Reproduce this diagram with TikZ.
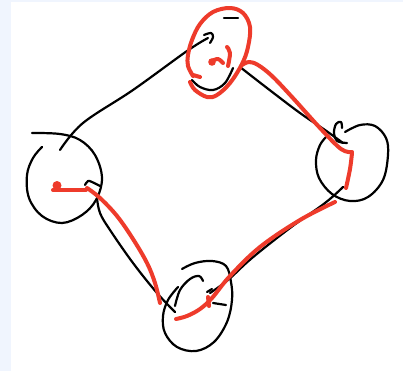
\documentclass[tikz,border=0pt]{standalone}
\usetikzlibrary{arrows.meta}
\definecolor{pen}{HTML}{000000}
\definecolor{marker}{HTML}{EE3B2B}
\definecolor{side}{HTML}{F0F5FE}
\tikzset{
  blk/.style={draw=pen,line width=1.65pt,line cap=round,line join=round},
  red/.style={draw=marker,line width=3pt,line cap=round,line join=round},
  sm/.style={smooth,tension=0.6}
}
\begin{document}
\begin{tikzpicture}[x=0.75pt,y=-0.75pt]
\useasboundingbox (0,0) rectangle (403,371);
\fill[white] (0,0) rectangle (403,371);
\fill[side] (0,0) rectangle (11,371);
\fill[side] (0,0) rectangle (403,1.5);
% node centres
\coordinate (topn) at (218,53);
\coordinate (leftn) at (65,180);
\coordinate (rightn) at (352,163);
\coordinate (botn) at (197,307);
% ---- black strokes ----
% arrow from left node up to top node
\draw[blk] plot[sm] coordinates {(60,150) (83,123) (133,90) (187,51) (208,38)};
\draw[blk] plot[sm] coordinates {(204,35) (211,33) (213,37) (210,43)};
% top node
\draw[blk] (224,18) -- (238,18);
\draw[blk] plot[sm] coordinates {(192,80) (200,87) (213,90) (225,83) (233,68)};
% top -> right
\draw[blk] plot[sm] coordinates {(240,67) (267,88) (300,113) (325,130) (343,143)};
% right node
\draw[blk] plot[sm] coordinates {(345,132) (360,125) (375,126) (386,138) (388,155) (383,180) (368,197) (350,201) (332,194) (319,178) (316,160) (320,145) (327,136)};
\draw[blk] plot[sm] coordinates {(342,128) (341,122) (336,124) (334,133) (337,141) (347,143)};
% right -> bottom
\draw[blk] plot[sm] coordinates {(343,187) (325,203) (290,228) (252,258) (228,280) (210,293)};
\draw[blk] (213,303) -- (226,305);
\draw[blk] (207,292) -- (212,289);
% bottom node
\draw[blk] plot[sm] coordinates {(182,269) (195,263) (212,261) (226,266) (231,282) (232,300) (227,322) (214,342) (196,351) (177,347) (165,333) (163,316) (168,300) (178,287)};
\draw[blk] plot[sm] coordinates {(175,306) (180,290) (190,279) (199,276) (203,281)};
% bottom -> left
\draw[blk] plot[sm] coordinates {(175,312) (157,293) (133,263) (110,230) (100,213) (97,198)};
% left node
\draw[blk] plot[sm] coordinates {(32,133) (60,134) (80,140) (95,155) (102,178) (96,200) (82,215) (62,223) (42,216) (29,198) (27,175) (33,158) (42,147)};
\draw[blk] plot[sm] coordinates {(85,185) (88,181) (92,182) (100,186)};
% ---- red strokes ----
% ellipse round top node
\draw[red] plot[sm] coordinates {(193,76) (188,66) (188,55) (192,40) (200,24) (213,12) (230,8) (243,13) (250,27) (248,47) (242,64) (230,83) (217,95) (207,97) (195,90) (190,82)};
\draw[red] (193,75) -- (200,77);
\fill[marker] (212,62) circle (3.8);
\draw[red] plot[sm] coordinates {(212,61) (218,59) (223,63)};
\draw[red] plot[sm] coordinates {(227,47) (230,53) (228,66)};
% top -> right
\draw[red] plot[sm] coordinates {(242,65) (249,62) (258,65) (272,76) (292,97) (320,128) (341,149) (352,152)};
\draw[red] plot[sm] coordinates {(352,153) (350,169) (346,188)};
% right -> bottom
\draw[red] plot[sm] coordinates {(335,202) (300,220) (260,247) (230,276) (212,298) (200,309) (187,316) (176,319)};
\draw[red] (208,297) -- (209,306);
% bottom -> left
\draw[red] plot[sm] coordinates {(160,303) (155,283) (147,263) (133,239) (117,216) (100,198) (87,188)};
% left node
\draw[red] (86,190) -- (53,190);
\fill[marker] (57,185.5) circle (4.5);
\end{tikzpicture}
\end{document}
